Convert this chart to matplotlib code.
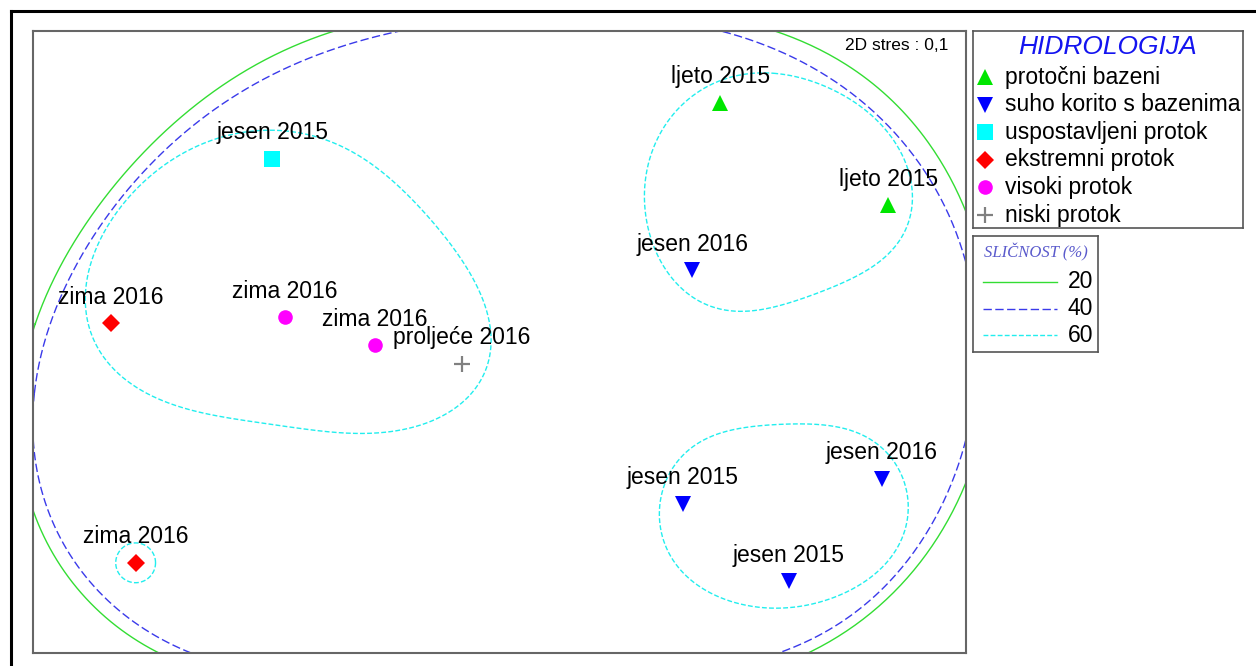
import numpy as np
import matplotlib
matplotlib.use("Agg")
import matplotlib.pyplot as plt
from matplotlib.lines import Line2D

plt.rcParams['font.family'] = ['Liberation Sans', 'DejaVu Sans']

# nMDS coordinates of samples
sample_x = [0.71, 1.25, 0.62, -0.73, -1.25, -0.69, -0.40, -0.12, 0.59, 1.23, 0.93, -1.17]
sample_y = [0.77, 0.44, 0.23, 0.59, 0.06, 0.08, -0.01, -0.07, -0.52, -0.44, -0.77, -0.71]
sample_label = ['ljeto 2015', 'ljeto 2015', 'jesen 2016', 'jesen 2015', 'zima 2016', 'zima 2016',
                'zima 2016', 'proljeće 2016', 'jesen 2015', 'jesen 2016', 'jesen 2015', 'zima 2016']
sample_group = [0, 0, 1, 2, 3, 4, 4, 5, 1, 1, 1, 3]

groups = ['protočni bazeni', 'suho korito s bazenima', 'uspostavljeni protok',
          'ekstremni protok', 'visoki protok', 'niski protok']
group_marker = ['^', 'v', 's', 'D', 'o', '+']
group_color = ['#00e600', '#0000ff', '#00ffff', '#ff0000', '#ff00ff', '#808080']
group_size = [12, 12, 11, 9, 10.5, 12]

# similarity contours (cluster overlay)
sim20 = [(-1.500, 0.064), (-1.310, 0.383), (-1.220, 0.518), (-1.050, 0.714), (-0.802, 0.881),
         (-0.529, 1.000), (-0.159, 1.074), (0.195, 1.090), (0.548, 1.061), (0.886, 1.000),
         (1.072, 0.929), (1.233, 0.810), (1.342, 0.682), (1.426, 0.563), (1.474, 0.479),
         (1.500, 0.424), (1.561, 0.167), (1.577, -0.090), (1.555, -0.315), (1.500, -0.460),
         (1.394, -0.637), (1.288, -0.788), (1.182, -0.884), (1.005, -1.000), (0.580, -1.096),
         (-0.063, -1.129), (-0.641, -1.096), (-1.130, -1.000), (-1.285, -0.862), (-1.391, -0.723),
         (-1.500, -0.566), (-1.542, -0.347), (-1.542, -0.122)]
sim40 = [(-1.494, -0.164), (-1.423, 0.093), (-1.317, 0.305), (-1.188, 0.521), (-0.953, 0.714),
         (-0.641, 0.900), (-0.330, 1.000), (-0.063, 1.042), (0.323, 1.051), (0.693, 1.000),
         (0.879, 0.945), (1.072, 0.852), (1.182, 0.778), (1.288, 0.627), (1.394, 0.466),
         (1.474, 0.354), (1.500, 0.302), (1.529, 0.135), (1.539, -0.058), (1.519, -0.219),
         (1.500, -0.293), (1.449, -0.434), (1.394, -0.572), (1.288, -0.756), (1.182, -0.852),
         (1.021, -0.936), (0.895, -1.000), (0.484, -1.061), (-0.063, -1.087), (-0.577, -1.061),
         (-1.034, -1.000), (-1.178, -0.894), (-1.339, -0.723), (-1.468, -0.508), (-1.500, -0.357),
         (-1.510, -0.267)]
sim60_a = [(-0.760, 0.672), (-0.600, 0.672), (-0.523, 0.643), (-0.439, 0.585), (-0.330, 0.498),
           (-0.223, 0.402), (-0.117, 0.254), (-0.053, 0.125), (-0.024, 0.016), (-0.040, -0.100),
           (-0.117, -0.196), (-0.330, -0.273), (-0.545, -0.293), (-0.867, -0.251), (-1.082, -0.177),
           (-1.252, -0.080), (-1.310, 0.016), (-1.333, 0.113), (-1.323, 0.232), (-1.275, 0.338),
           (-1.188, 0.466), (-1.082, 0.576), (-0.953, 0.633)]
sim60_b = [(0.879, 0.865), (0.966, 0.852), (1.072, 0.810), (1.214, 0.714), (1.288, 0.608),
           (1.326, 0.479), (1.304, 0.350), (1.233, 0.264), (1.095, 0.190), (0.924, 0.125),
           (0.773, 0.096), (0.677, 0.113), (0.571, 0.190), (0.506, 0.286), (0.468, 0.434),
           (0.474, 0.553), (0.539, 0.714), (0.677, 0.820)]
sim60_c = [(0.966, -0.264), (1.182, -0.305), (1.278, -0.402), (1.313, -0.508), (1.288, -0.646),
           (1.182, -0.765), (1.021, -0.839), (0.870, -0.855), (0.645, -0.788), (0.539, -0.669),
           (0.516, -0.563), (0.558, -0.402), (0.677, -0.305)]
sim60_single = 11      # sample with its own 60 % ring
sim60_radius = 0.064

sim_levels = ['20', '40', '60']
sim_color = ['#33dd33', '#3a3aea', '#22eeee']
sim_dash = [None, (6, 2.5), (3.5, 1.6)]


def smooth_closed(pts, k=4, n=800):
    # least-squares Fourier fit of the closed outline through the read points
    pts = np.asarray(pts, float)
    seg = np.linalg.norm(np.diff(np.vstack([pts, pts[:1]]), axis=0), axis=1)
    d = np.r_[0, np.cumsum(seg)]
    t = 2 * np.pi * d[:-1] / d[-1]

    def basis(tt):
        cols = [np.ones_like(tt)]
        for j in range(1, k + 1):
            cols += [np.cos(j * tt), np.sin(j * tt)]
        return np.column_stack(cols)

    coef, *_ = np.linalg.lstsq(basis(t), pts, rcond=None)
    return basis(np.linspace(0, 2 * np.pi, n)) @ coef


def style(i):
    kw = dict(color=sim_color[i], lw=1.0)
    if sim_dash[i] is not None:
        kw['dashes'] = sim_dash[i]
    return kw


W, H = 1256, 666
fig = plt.figure(figsize=(W / 100, H / 100), dpi=100)


def px_axes(x0, y0, x1, y1):
    return fig.add_axes([x0 / W, 1 - y1 / H, (x1 - x0) / W, (y1 - y0) / H])


# outer frame (cut by the image edge on right and bottom)
fig.add_artist(Line2D([11 / W, 1], [1 - 11 / H, 1 - 11 / H], color='black', lw=2.2, transform=fig.transFigure))
fig.add_artist(Line2D([11 / W, 11 / W], [0, 1 - 11 / H], color='black', lw=2.2, transform=fig.transFigure))

ax = px_axes(33, 31, 966, 653)
ax.set_xlim(-1.5, 1.5)
ax.set_ylim(-1, 1)
ax.set_xticks([])
ax.set_yticks([])
for s in ax.spines.values():
    s.set_color('#666666')
    s.set_linewidth(1.5)

for i, cont in enumerate([sim20, sim40]):
    c = smooth_closed(cont, k=5)
    ax.plot(c[:, 0], c[:, 1], **style(i))
for cont in [sim60_a, sim60_b, sim60_c]:
    c = smooth_closed(cont, k=4)
    ax.plot(c[:, 0], c[:, 1], **style(2))
ang = np.linspace(0, 2 * np.pi, 200)
ax.plot(sample_x[sim60_single] + sim60_radius * np.cos(ang),
        sample_y[sim60_single] + sim60_radius * np.sin(ang), **style(2))

for x, y, lab, g in zip(sample_x, sample_y, sample_label, sample_group):
    mew = 1.6 if group_marker[g] == '+' else 0
    ax.plot(x, y, marker=group_marker[g], ms=group_size[g], color=group_color[g],
            mec=group_color[g], mew=mew, ls='none', zorder=5)
    ax.annotate(lab, (x, y), xytext=(0, 14), textcoords='offset points',
                ha='center', va='baseline', fontsize=16.5, zorder=6)

ax.text(0.981, 0.976, '2D stres : 0,1', transform=ax.transAxes, ha='right', va='center', fontsize=12.5)

# legend: groups
lax = px_axes(973, 31, 1243, 228)
lax.set_xlim(0, 270)
lax.set_ylim(197, 0)
lax.set_xticks([])
lax.set_yticks([])
for s in lax.spines.values():
    s.set_color('#555555')
    s.set_linewidth(1.2)
lax.text(135, 16, 'HIDROLOGIJA', ha='center', va='center', fontsize=19, style='italic', color='#1414f0')
for i, name in enumerate(groups):
    yy = 46 + 27.6 * i
    mew = 1.6 if group_marker[i] == '+' else 0
    lax.plot(12, yy, marker=group_marker[i], ms=group_size[i], color=group_color[i],
             mec=group_color[i], mew=mew, ls='none')
    lax.text(32, yy, name, ha='left', va='center', fontsize=16.5)

# legend: similarity levels
lax2 = px_axes(973, 236, 1098, 352)
lax2.set_xlim(0, 125)
lax2.set_ylim(116, 0)
lax2.set_xticks([])
lax2.set_yticks([])
for s in lax2.spines.values():
    s.set_color('#555555')
    s.set_linewidth(1.2)
lax2.text(63, 16, 'SLIČNOST (%)', ha='center', va='center', fontsize=12, style='italic',
          family=['Liberation Serif', 'DejaVu Serif'], color='#5a5acc')
for i, lev in enumerate(sim_levels):
    yy = 46 + 26.5 * i
    lax2.plot([10, 84], [yy, yy], **style(i))
    lax2.text(95, yy, lev, ha='left', va='center', fontsize=16.5)

fig.savefig('out.png', dpi=100)
